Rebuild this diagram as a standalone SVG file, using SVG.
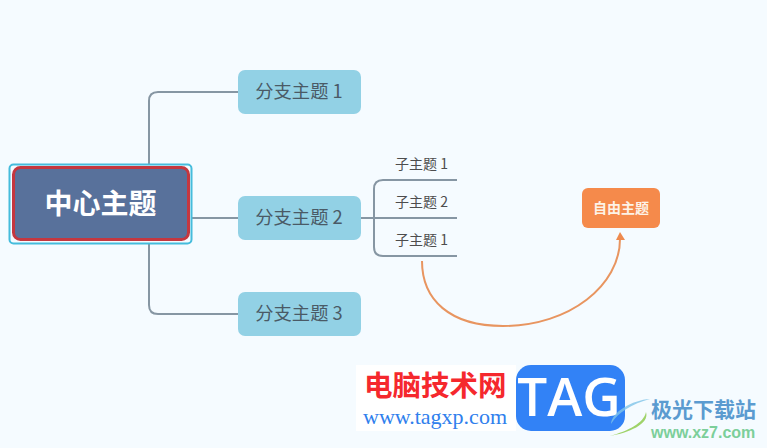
<svg xmlns="http://www.w3.org/2000/svg" width="767" height="448" viewBox="0 0 767 448">
<style>
.t{font-family:"Noto Sans CJK SC","Noto Sans",sans-serif}
.b{fill:#92d1e5}
.bt{font-size:18.300px;fill:#4a5a66;text-anchor:middle}
.st{font-size:14px;fill:#4d4d4d;text-anchor:middle}
.c{fill:none;stroke:#8696a3;stroke-width:2}
</style>
<rect width="767" height="448" fill="#f5fbff"/>
<g id="connectors">
<path class="c" d="M238 92H158Q149 92 149 101V305Q149 314 158 314H238"/>
<path class="c" d="M188 218H238"/>
<path class="c" d="M360 218H457"/>
<path class="c" d="M457 180H383Q374 180 374 189V247Q374 256 383 256H457"/>
<path d="M422 261C422 300 450 326 503 326C570 326 620 285 620 239" fill="none" stroke="#e89560" stroke-width="2"/>
<path d="M620 232L625 240H616Z" fill="#ee8a4e"/>
</g>
<g id="center">
<rect x="9.500" y="164.500" width="182" height="79" rx="4" fill="#f5fbff" stroke="#45bcdc" stroke-width="2"/>
<rect x="13.500" y="167.500" width="175" height="72" rx="7" fill="#58719b" stroke="#c4373f" stroke-width="3"/>
<text class="t" x="100.500" y="213.500" font-size="28" font-weight="700" fill="#fff" text-anchor="middle">中心主题</text>
</g>
<g id="branch1"><rect class="b" x="238" y="70" width="123" height="44" rx="7"/><text class="t bt" x="299" y="98">分支主题 1</text></g>
<g id="branch2"><rect class="b" x="238" y="196" width="123" height="44" rx="7"/><text class="t bt" x="299" y="224">分支主题 2</text></g>
<g id="branch3"><rect class="b" x="238" y="292" width="123" height="44" rx="7"/><text class="t bt" x="299" y="320">分支主题 3</text></g>
<g id="sub1"><text class="t st" x="421.500" y="169">子主题 1</text></g>
<g id="sub2"><text class="t st" x="421.500" y="207">子主题 2</text></g>
<g id="sub3"><text class="t st" x="421.500" y="245">子主题 1</text></g>
<g id="free"><rect x="582" y="188" width="78" height="40" rx="6" fill="#f58a4b"/><text class="t" x="621" y="213" font-size="14" font-weight="700" fill="#fdf3e7" text-anchor="middle">自由主题</text></g>
<g id="watermark">
<rect x="356" y="365" width="160" height="66" fill="#fff"/>
<text class="t" x="364" y="396" font-size="28.500" font-weight="700" fill="#f5282d">电脑技术网</text>
<text x="363" y="424" font-family="Liberation Serif,serif" font-size="22" fill="#2f80ed">www.tagxp.com</text>
<rect x="516" y="365" width="109" height="66" rx="15" fill="#3282f6"/>
<text x="569" y="416" font-family="Open Sans,Liberation Sans,sans-serif" font-size="53" font-weight="600" fill="#fff" text-anchor="middle">TAG</text>
<path d="M650 399C632 400 612 412 611 424C618 412 632 404 650 399Z" fill="#7fc4e8" opacity=".8"/>
<path d="M610 436C628 433 650 424 646 412C644 423 628 431 610 436Z" fill="#9fd36a"/>
<text class="t" x="651" y="417" font-size="21" font-weight="700" fill="#5b9bd0">极光下载站</text>
<text x="651" y="438" font-family="Liberation Sans,sans-serif" font-size="16" font-weight="700" fill="#7ccf9a">www.xz7.com</text>
</g>
</svg>
